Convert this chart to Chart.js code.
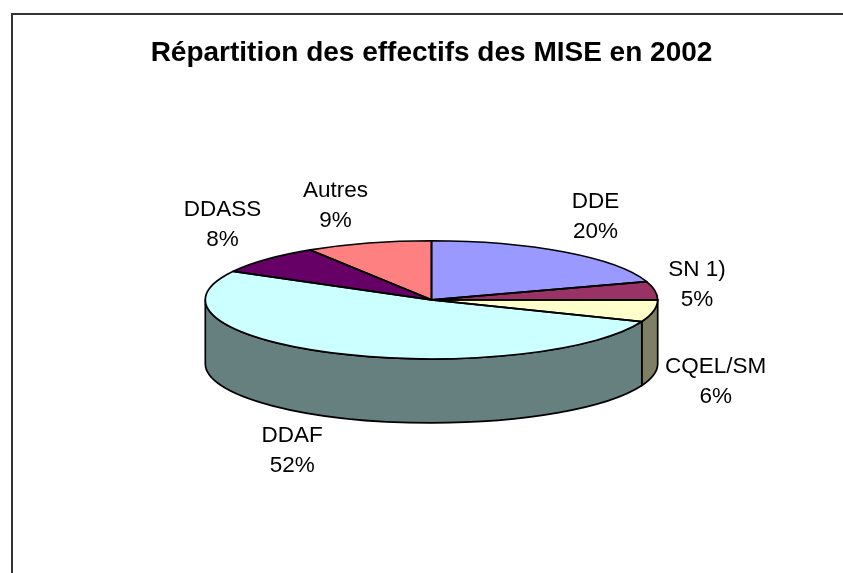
<!DOCTYPE html>
<html>
<head>
<meta charset="utf-8">
<title>Répartition des effectifs des MISE en 2002</title>
<script src="https://cdn.jsdelivr.net/npm/chart.js@4"></script>
<style>
    html, body { margin: 0; padding: 0; background: #fff; overflow: hidden; }
    canvas { display: block; }
</style>
</head>
<body>
<canvas id="chart" width="843" height="573"></canvas>
<script>
const chartTitle = 'Répartition des effectifs des MISE en 2002'
const categories = ['DDE', 'SN 1)', 'CQEL/SM', 'DDAF', 'DDASS', 'Autres']
const percents = [20, 5, 6, 52, 8, 9]
const sliceColors = ['#9999ff', '#993366', '#ffffcc', '#ccffff', '#660066', '#ff8080']
// decalage de chaque etiquette par rapport au bord de sa part
const labelOffsets = [[31, -35], [42, -6], [62, 71], [-43, 98], [-44, -35], [-33, -37]]

const tilt = 59 / 226 // aplatissement de l'ellipse
const depth = 64 // epaisseur du camembert
const lineWidth = 1.7
const fontName = '"Liberation Sans", Arial, sans-serif'

function halfColor(hex) {
    const n = parseInt(hex.slice(1), 16)
    const r = (n >> 16) >> 1
    const g = ((n >> 8) & 255) >> 1
    const b = (n & 255) >> 1
    return `rgb(${r}, ${g}, ${b})`
}

const pie3d = {
    id: 'pie3d',
    beforeDraw(chart) {
        // cadre : seulement les bords gauche et haut
        const ctx = chart.ctx
        ctx.save()
        ctx.fillStyle = '#333'
        ctx.fillRect(11, 13, 832, 2)
        ctx.fillRect(11, 13, 2, 560)
        ctx.restore()
    },
    beforeDatasetsDraw(chart) {
        const ctx = chart.ctx
        const arcs = chart.getDatasetMeta(0).data
        const cx = arcs[0].x
        const cy = arcs[0].y
        const rx = arcs[0].outerRadius
        const ry = rx * tilt

        // face avant : seulement la moitie basse de chaque part
        ctx.save()
        ctx.strokeStyle = '#000'
        ctx.lineWidth = lineWidth
        ctx.lineJoin = 'round'
        arcs.forEach((arc, i) => {
            const a0 = Math.max(arc.startAngle, 0)
            const a1 = Math.min(arc.endAngle, Math.PI)
            if (a1 <= a0) return
            ctx.beginPath()
            ctx.ellipse(cx, cy, rx, ry, 0, a0, a1)
            ctx.ellipse(cx, cy + depth, rx, ry, 0, a1, a0, true)
            ctx.closePath()
            ctx.fillStyle = halfColor(sliceColors[i])
            ctx.fill()
            ctx.stroke()
        })
        ctx.restore()

        // le dessus est dessine par Chart.js dans un repere ecrase
        ctx.save()
        ctx.translate(cx, cy)
        ctx.scale(1, tilt)
        ctx.translate(-cx, -cy)
    },
    afterDatasetsDraw(chart) {
        const ctx = chart.ctx
        ctx.restore()

        const arcs = chart.getDatasetMeta(0).data
        ctx.save()
        ctx.strokeStyle = '#000'
        ctx.lineWidth = lineWidth
        ctx.lineJoin = 'round'
        arcs.forEach((arc) => {
            const rx = arc.outerRadius
            ctx.beginPath()
            ctx.moveTo(arc.x, arc.y)
            ctx.ellipse(arc.x, arc.y, rx, rx * tilt, 0, arc.startAngle, arc.endAngle)
            ctx.closePath()
            ctx.stroke()
        })

        // etiquettes : nom + pourcentage
        ctx.fillStyle = '#000'
        ctx.font = `22.5px ${fontName}`
        ctx.textAlign = 'center'
        ctx.textBaseline = 'middle'
        arcs.forEach((arc, i) => {
            const mid = (arc.startAngle + arc.endAngle) / 2
            const x = arc.x + Math.cos(mid) * arc.outerRadius + labelOffsets[i][0]
            const y = arc.y + Math.sin(mid) * arc.outerRadius * tilt + labelOffsets[i][1]
            ctx.fillText(categories[i], x, y - 15)
            ctx.fillText(`${percents[i]}%`, x, y + 15)
        })
        ctx.restore()
    }
}

new Chart(document.getElementById('chart'), {
    type: 'pie',
    data: {
        labels: categories,
        datasets: [
            {
                data: percents,
                backgroundColor: sliceColors,
                borderWidth: 0
            }
        ]
    },
    options: {
        responsive: false,
        animation: false,
        layout: {
            padding: { left: 20, bottom: 47 }
        },
        plugins: {
            legend: { display: false },
            tooltip: { enabled: false },
            title: {
                display: true,
                text: chartTitle,
                color: '#000',
                font: { family: fontName, size: 28, weight: 'bold', lineHeight: 1.2 },
                padding: { top: 36, bottom: 4 }
            }
        }
    },
    plugins: [pie3d]
})
</script>
</body>
</html>
